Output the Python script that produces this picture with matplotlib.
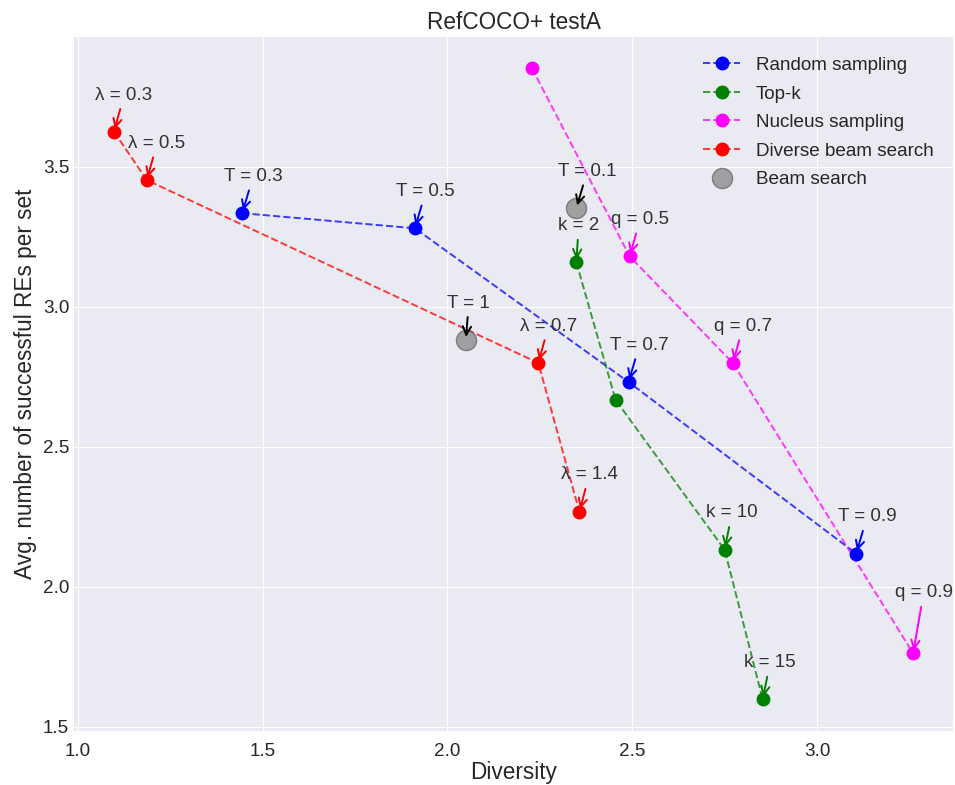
import matplotlib
matplotlib.use("Agg")
import matplotlib.pyplot as plt
from matplotlib.lines import Line2D

plt.style.use("seaborn-v0_8-darkgrid")
plt.rcParams['font.family'] = ['Liberation Sans', 'DejaVu Sans']

# Data
rand_x = [1.445, 1.912, 2.490, 3.106]
rand_y = [3.335, 3.281, 2.732, 2.119]
rand_lbl = ["T = 0.3", "T = 0.5", "T = 0.7", "T = 0.9"]

topk_x = [2.349, 2.455, 2.750, 2.853]
topk_y = [3.159, 2.668, 2.133, 1.598]
topk_lbl = ["k = 2", None, "k = 10", "k = 15"]

nuc_x = [2.229, 2.493, 2.772, 3.260]
nuc_y = [3.852, 3.181, 2.800, 1.763]
nuc_lbl = [None, "q = 0.5", "q = 0.7", "q = 0.9"]

dbs_x = [1.098, 1.187, 2.246, 2.357]
dbs_y = [3.626, 3.453, 2.800, 2.269]
dbs_lbl = ["λ = 0.3", "λ = 0.5", "λ = 0.7", "λ = 1.4"]

beam_x = [2.349, 2.050]
beam_y = [3.353, 2.883]
beam_lbl = ["T = 0.1", "T = 1"]

FS = 13.6
fig = plt.figure(figsize=(9.55, 7.85), dpi=100)
ax = fig.add_axes([0.0775, 0.0688, 0.9205, 0.8842])

series = [
    (rand_x, rand_y, rand_lbl, (0, 0, 1), "Random sampling"),
    (topk_x, topk_y, topk_lbl, (0, 0.5, 0), "Top-k"),
    (nuc_x, nuc_y, nuc_lbl, (1, 0, 1), "Nucleus sampling"),
    (dbs_x, dbs_y, dbs_lbl, (1, 0, 0), "Diverse beam search"),
]

handles = []
for xs, ys, lbls, c, name in series:
    ax.plot(xs, ys, linestyle="--", color=c, alpha=0.75, lw=1.4, zorder=2)
    ax.plot(xs, ys, linestyle="none", marker="o", markersize=9, color=c, zorder=3)
    handles.append(Line2D([], [], linestyle="--", color=c + (0.75,), lw=1.4,
                          marker="o", markersize=9, markerfacecolor=c,
                          markeredgecolor=c, label=name))
    for x, y, l in zip(xs, ys, lbls):
        if l is None:
            continue
        dy = 0.2 if l == "q = 0.9" else 0.115
        ax.annotate(l, xy=(x, y), xytext=(x - 0.05, y + dy),
                    fontsize=FS, color="#333333",
                    arrowprops=dict(arrowstyle="->", color=c, lw=1.4,
                                    mutation_scale=15))

beam = ax.plot(beam_x, beam_y, linestyle="none", marker="o", markersize=14.5,
               color="gray", markeredgecolor="#606060", alpha=0.7,
               label="Beam search", zorder=3)[0]
handles.append(beam)
for x, y, l in zip(beam_x, beam_y, beam_lbl):
    ax.annotate(l, xy=(x, y), xytext=(x - 0.05, y + 0.115),
                fontsize=FS, color="#333333",
                arrowprops=dict(arrowstyle="->", color="black", lw=1.4,
                                mutation_scale=15))

ax.set_xticks([1.0, 1.5, 2.0, 2.5, 3.0])
ax.set_yticks([1.5, 2.0, 2.5, 3.0, 3.5])
ax.tick_params(labelsize=FS)
ax.tick_params(axis="x", pad=8.5)
ax.set_xlabel("Diversity", fontsize=16.3, labelpad=1)
ax.set_ylabel("Avg. number of successful REs per set", fontsize=16.3)
ax.set_title("RefCOCO+ testA", fontsize=16.3)
ax.legend(handles=handles, loc="upper right", fontsize=FS, frameon=False,
          labelspacing=0.6, borderaxespad=0.65)

fig.savefig("out.png", dpi=100)
